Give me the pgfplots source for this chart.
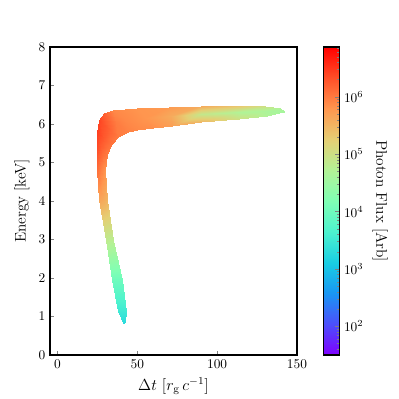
\documentclass[border=0pt]{standalone}
\usepackage{pgfplots}
\pgfplotsset{compat=1.18}
\begin{document}
\begin{tikzpicture}
\begin{axis}[name=ax, scale only axis, width=185.25pt, height=231pt,
  xmin=-4.7, xmax=150, ymin=0, ymax=8,
  xtick={0,50,100,150}, ytick={0,1,2,3,4,5,6,7,8},
  tick align=inside, xtick pos=left, ytick pos=left,
  major tick length=3pt,
  axis line style={line width=1.1pt},
  label style={font=\fontsize{11.5}{13}\selectfont},
  xlabel={$\Delta t$ $[r_{\mathrm{g}}\,c^{-1}]$},
  ylabel={Energy [keV]},
  colormap={rainbowmpl}{rgb=(0.5,0,1) rgb=(0.3,0.309,0.988) rgb=(0.1,0.588,0.951) rgb=(0.1,0.809,0.891) rgb=(0.3,0.951,0.809) rgb=(0.5,1,0.707) rgb=(0.7,0.951,0.588) rgb=(0.9,0.809,0.454) rgb=(1,0.588,0.309) rgb=(1,0.309,0.156) rgb=(1,0,0)},
  point meta min=1.5, point meta max=6.87,
  colorbar,
  colorbar style={at={(parent axis.north east)}, anchor=north west, xshift=11.25pt,
    width=12pt,
    ytick={2,3,4,5,6}, yticklabels={$10^2$,$10^3$,$10^4$,$10^5$,$10^6$},
    minor ytick={1.602,1.699,1.778,1.845,1.903,1.954,
      2.301,2.477,2.602,2.699,2.778,2.845,2.903,2.954,
      3.301,3.477,3.602,3.699,3.778,3.845,3.903,3.954,
      4.301,4.477,4.602,4.699,4.778,4.845,4.903,4.954,
      5.301,5.477,5.602,5.699,5.778,5.845,5.903,5.954,
      6.301,6.477,6.602,6.699,6.778,6.845},
    tick align=inside, ytick pos=right, yticklabel pos=right,
    major tick length=3.5pt, minor tick length=2pt,
    ylabel={Photon Flux [Arb]}, ylabel style={rotate=180, font=\fontsize{11.5}{13}\selectfont},
    axis line style={line width=1pt}},
]
\addplot[surf, shader=interp, mesh/rows=3, mesh/cols=18, point meta=explicit] table[meta=c, row sep=\\] {
x y c\\
41.0 0.82 3.3\\
38.0 1.15 3.5\\
34.0 1.94 4.0\\
30.4 2.98 4.85\\
26.2 4.02 5.65\\
25.0 4.80 6.1\\
24.7 5.35 6.35\\
24.8 5.80 6.45\\
26.0 6.10 6.4\\
29.0 6.28 6.2\\
35.0 6.37 5.9\\
50.0 6.42 5.8\\
70.0 6.45 5.75\\
90.0 6.47 5.6\\
115.0 6.48 5.3\\
130.0 6.46 5.0\\
139.4 6.41 4.7\\
142.0 6.33 4.6\\
41.5 0.835 3.3\\
40.5 1.15 3.5\\
37.1 1.94 4.0\\
32.6 2.98 4.8\\
28.7 4.02 5.6\\
27.4 4.80 5.95\\
27.85 5.275 6.15\\
29.15 5.625 6.25\\
31.95 5.88 6.2\\
36.5 6.03 6.0\\
42.5 6.11 5.9\\
55.0 6.16 5.8\\
71.0 6.205 5.6\\
90.0 6.255 4.9\\
114.5 6.305 4.7\\
130.5 6.33 4.65\\
139.2 6.345 4.6\\
142.0 6.325 4.6\\
42.0 0.85 3.3\\
43.0 1.15 3.5\\
40.2 1.94 4.0\\
34.8 2.98 4.8\\
31.2 4.02 5.5\\
29.8 4.80 5.8\\
31.0 5.20 6.0\\
33.5 5.45 6.05\\
37.9 5.66 6.0\\
44.0 5.78 5.95\\
50.0 5.85 5.9\\
60.0 5.90 5.85\\
72.0 5.96 5.7\\
90.0 6.04 5.5\\
114.0 6.13 5.0\\
131.0 6.20 4.7\\
139.0 6.28 4.6\\
142.0 6.32 4.6\\
};
\end{axis}
\path (ax.south west) ++(-37.5pt,-33pt) rectangle ++(299.25pt,299.25pt);
\end{tikzpicture}
\end{document}
